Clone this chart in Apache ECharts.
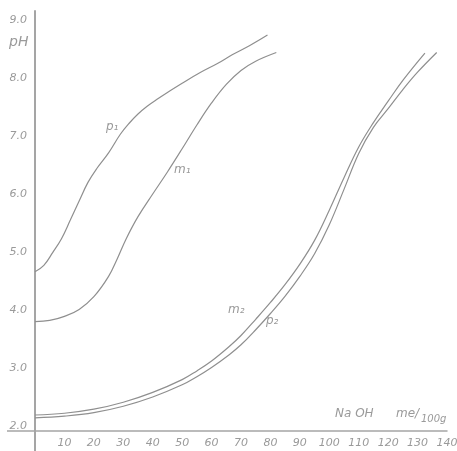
<!DOCTYPE html>
<html>
<head>
<meta charset="utf-8">
<script src="https://cdn.jsdelivr.net/npm/echarts@6/dist/echarts.min.js"></script>
<style>
html,body{margin:0;padding:0;background:#fff;}
#c{width:457px;height:451px;}
</style>
</head>
<body>
<div id="c"></div>
<script>
// NaOH (me/100g) and pH values
const xP1 = [0, 3, 6, 9, 12, 15, 18, 21, 25, 29, 32, 35, 38, 42, 45, 50, 56, 62, 67, 73, 79];
const yP1 = [4.66, 4.77, 4.99, 5.23, 5.55, 5.88, 6.20, 6.44, 6.71, 7.03, 7.22, 7.38, 7.51, 7.65, 7.75, 7.91, 8.09, 8.25, 8.40, 8.56, 8.74];

const xM1 = [0, 5, 10, 15, 20, 25, 28, 31, 35, 40, 45, 50, 55, 60, 65, 70, 75, 82];
const yM1 = [3.80, 3.82, 3.89, 4.01, 4.23, 4.58, 4.89, 5.23, 5.61, 6.00, 6.38, 6.78, 7.19, 7.57, 7.89, 8.13, 8.29, 8.44];

const xM2 = [0, 10, 20, 30, 40, 50, 55, 60, 66, 70, 75, 80, 85, 90, 95, 100, 105, 110, 115, 120, 125, 132.5];
const yM2 = [2.19, 2.22, 2.29, 2.41, 2.58, 2.80, 2.95, 3.12, 3.37, 3.56, 3.84, 4.13, 4.44, 4.79, 5.20, 5.72, 6.28, 6.81, 7.23, 7.60, 7.96, 8.43];

const xP2 = [0, 10, 20, 30, 40, 50, 55, 60, 66, 70, 75, 80, 85, 90, 95, 100, 105, 110, 115, 120, 125, 130, 136.5];
const yP2 = [2.14, 2.17, 2.23, 2.34, 2.50, 2.71, 2.85, 3.01, 3.23, 3.40, 3.66, 3.94, 4.24, 4.58, 4.97, 5.47, 6.08, 6.70, 7.15, 7.47, 7.80, 8.10, 8.44];

const xTicks = [10, 20, 30, 40, 50, 60, 70, 80, 90, 100, 110, 120, 130, 140];
const yTicks = [2, 3, 4, 5, 6, 7, 8, 9];

const zip = (xs, ys) => xs.map((x, i) => [x, ys[i]]);

const lineCol = '#8f8f8f';
const axisCol = '#a5a5a5';
const textCol = '#9a9a9a';
const font = 'DejaVu Sans';
const yMin = 1.914;

function curve(name, xs, ys) {
  return {
    name: name,
    type: 'line',
    data: zip(xs, ys),
    smooth: 0.4,
    showSymbol: false,
    symbol: 'none',
    lineStyle: { color: lineCol, width: 1.2 },
    silent: true
  };
}

const chart = echarts.init(document.getElementById('c'), null, { renderer: 'canvas' });
chart.setOption({
  animation: false,
  backgroundColor: '#ffffff',
  grid: { left: 35, right: 10, top: 11, bottom: 20, outerBoundsMode: 'none', containLabel: false },
  xAxis: {
    type: 'value',
    min: 0,
    max: 140,
    axisLine: { show: true, onZero: false, lineStyle: { color: axisCol, width: 1.5 } },
    axisTick: { show: true, customValues: [0], length: 20, lineStyle: { color: axisCol, width: 2 } },
    axisLabel: {
      customValues: xTicks,
      margin: 7,
      color: textCol,
      fontFamily: font,
      fontStyle: 'italic',
      fontSize: 11
    },
    splitLine: { show: false }
  },
  yAxis: {
    type: 'value',
    min: yMin,
    max: 9.155,
    axisLine: { show: true, onZero: false, lineStyle: { color: axisCol, width: 2 } },
    axisTick: { show: true, customValues: [yMin], length: 28, lineStyle: { color: axisCol, width: 1.5 } },
    axisLabel: {
      customValues: yTicks,
      formatter: v => v.toFixed(1),
      margin: 8,
      color: textCol,
      fontFamily: font,
      fontStyle: 'italic',
      fontSize: 11
    },
    splitLine: { show: false }
  },
  series: [
    curve('p1', xP1, yP1),
    curve('m1', xM1, yM1),
    curve('m2', xM2, yM2),
    curve('p2', xP2, yP2)
  ],
  graphic: [
    { type: 'text', left: 9, top: 35, style: { text: 'pH', fill: textCol, font: 'italic 14px ' + font } },
    { type: 'text', left: 106, top: 121, style: { text: 'p₁', fill: textCol, font: 'italic 12px ' + font } },
    { type: 'text', left: 174, top: 164, style: { text: 'm₁', fill: textCol, font: 'italic 12px ' + font } },
    { type: 'text', left: 228, top: 304, style: { text: 'm₂', fill: textCol, font: 'italic 12px ' + font } },
    { type: 'text', left: 266, top: 315, style: { text: 'p₂', fill: textCol, font: 'italic 12px ' + font } },
    { type: 'text', left: 335, top: 408, style: { text: 'Na OH', fill: textCol, font: 'italic 12px ' + font } },
    { type: 'text', left: 396, top: 408, style: { text: 'me/', fill: textCol, font: 'italic 12px ' + font } },
    { type: 'text', left: 421, top: 414, style: { text: '100g', fill: textCol, font: 'italic 10px ' + font } }
  ]
});
</script>
</body>
</html>
